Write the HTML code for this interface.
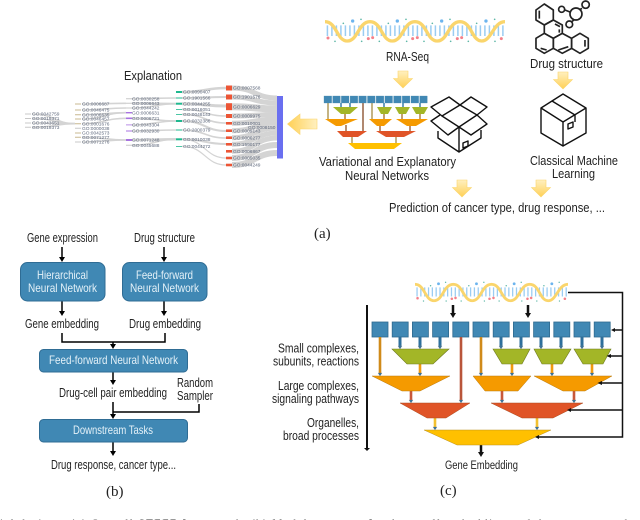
<!DOCTYPE html>
<html><head><meta charset="utf-8"><style>
html,body{margin:0;padding:0;background:#fff;width:640px;height:520px;overflow:hidden}
svg{display:block;filter:blur(.35px)}
text{font-family:"Liberation Sans",sans-serif;fill:#222;font-size:12.5px}
.s{font-family:"Liberation Serif",serif;font-size:15px;fill:#222}
.w{fill:#e4f1f8;font-size:12px}
.go{font-size:4.8px;fill:#5e687c}
.fl{fill:none;stroke:#d4d4d4}
.b{stroke:#000;stroke-width:1.5;fill:none}
.bk{fill:none;stroke:#111;stroke-width:1.4;stroke-linejoin:round}
.mol{fill:none;stroke:#222;stroke-width:5;stroke-linejoin:round}
</style></head><body>
<svg width="640" height="520" viewBox="0 0 640 520" xmlns="http://www.w3.org/2000/svg">
<defs>
<linearGradient id="ya" x1="0" y1="0" x2="0" y2="1"><stop offset="0" stop-color="#fff0c0"/><stop offset="1" stop-color="#ffd055"/></linearGradient>
<linearGradient id="yl" x1="1" y1="0" x2="0" y2="0"><stop offset="0" stop-color="#fff0c0"/><stop offset="1" stop-color="#ffd055"/></linearGradient>
<g id="helix">
<line x1="80" y1="92" x2="612" y2="92" stroke="#9accf2" stroke-width="32" stroke-dasharray="4.500 9"/>
<path d="M75 65C110 65 110 123 142 123S175 65 210 65S245 123 277 123S310 65 345 65S380 123 412 123S445 65 480 65S515 123 545 123S580 65 615 65" fill="none" stroke="#fad56c" stroke-width="10"/>
<g fill="#f4808a"><circle cx="84" cy="114" r="4.500"/><circle cx="205" cy="116" r="4.500"/><circle cx="218" cy="113" r="4.500"/><circle cx="338" cy="116" r="4.500"/><circle cx="352" cy="113" r="4.500"/><circle cx="472" cy="116" r="4.500"/><circle cx="485" cy="113" r="4.500"/><circle cx="604" cy="116" r="4.500"/></g>
<g fill="#6cb4ee"><circle cx="158" cy="63" r="5"/><circle cx="292" cy="63" r="5"/><circle cx="425" cy="63" r="5"/><circle cx="558" cy="63" r="5"/></g>
<g fill="#5fb8a8"><circle cx="130" cy="70" r="2.500"/><circle cx="183" cy="58" r="2.500"/><circle cx="265" cy="70" r="2.500"/><circle cx="318" cy="58" r="2.500"/><circle cx="397" cy="70" r="2.500"/><circle cx="450" cy="58" r="2.500"/><circle cx="530" cy="70" r="2.500"/><circle cx="584" cy="58" r="2.500"/><circle cx="105" cy="124" r="2.500"/><circle cx="185" cy="124" r="2.500"/><circle cx="238" cy="124" r="2.500"/><circle cx="320" cy="124" r="2.500"/><circle cx="372" cy="124" r="2.500"/><circle cx="452" cy="124" r="2.500"/><circle cx="505" cy="124" r="2.500"/><circle cx="585" cy="124" r="2.500"/></g>
</g>
<path id="ad" d="M5 0H15V7.500H19.500L10 17L.5 7.500H5Z" fill="url(#ya)" stroke="#fbd56b" stroke-width=".6"/>
<rect id="sq" width="16" height="15" fill="#4088b4" stroke="#2f6a8f" stroke-width=".8"/>
<rect id="ms" width="7.600" height="7" fill="#4088b4" stroke="#4b8db0" stroke-width=".3"/>
</defs>

<!-- (a) top helix -->
<use href="#helix" transform="translate(300 0) scale(.3333)"/>
<text x="386" y="61" textLength="43" lengthAdjust="spacingAndGlyphs">RNA-Seq</text>
<use href="#ad" x="393" y="71"/>

<!-- molecule -->
<g transform="translate(300 0) scale(.3333)" class="mol">
<path d="M708 30L733 12L760 30V60L733 75L708 60Z"/>
<path d="M733 75L760 60L787 75V100L760 115L733 100Z"/>
<path d="M708 115L733 100L760 115V145L733 160L708 145Z"/>
<path d="M760 115L787 100L815 115V145L787 160L760 145Z"/>
<path d="M815 115L840 100L865 115V145L840 160L815 145Z"/>
<path d="M718 32V56M765 72L780 80M778 88V98M855 120V140M775 150L805 140M722 145L740 150"/>
<circle cx="828" cy="42" r="18"/><circle cx="857" cy="14" r="11"/><circle cx="785" cy="28" r="9"/><circle cx="808" cy="73" r="10"/>
<path d="M795 30L810 36M846 25L838 30M822 60L815 65"/>
</g>
<text x="530" y="68" textLength="73" lengthAdjust="spacingAndGlyphs">Drug structure</text>
<use href="#ad" x="553" y="72"/>

<!-- closed box -->
<g class="bk">
<path d="M563 94L586 108V133L563 146L541 133V108Z"/>
<path d="M541 108L563 122L586 108M563 122V146M552 101L575 115V122"/>
<path d="M568 124L573 122V127L568 129Z"/>
</g>
<text x="530" y="165" textLength="88" lengthAdjust="spacingAndGlyphs">Classical Machine</text>
<text x="552" y="178" textLength="43" lengthAdjust="spacingAndGlyphs">Learning</text>

<!-- open box -->
<g class="bk">
<path d="M442 116L431 107L449 97L460 105L471 97L487 107L477 115"/>
<path d="M442 116L460 105L477 115L459 127Z"/>
<path d="M440 115L431 121L448 135L459 127L471 135L487 124L477 115"/>
<path d="M438 131V138L459 152L481 138V130M459 127V152"/>
<path d="M463 143L468 141V146L463 148Z"/>
</g>

<!-- mini network -->
<g fill="none" stroke-width="1.500">
<path d="M328 103V120" stroke="#b09a5a"/>
<path d="M345 114V120" stroke="#b07a3a"/>
<path d="M341 103V107M350 103V107M384 103V107M403 103V107M420 103V107" stroke="#3a7fa8"/>
<path d="M363 103V131" stroke="#a87a60" stroke-width="1.800"/>
<path d="M372 103V120" stroke="#b09a5a"/>
<path d="M384 114V120M402 114V120M420 114V120" stroke="#b08040"/>
<path d="M346 125V131M380 125V131M410 125V131" stroke="#a06a40"/>
<path d="M352 137V143M396 137V143" stroke="#b09a5a"/>
</g>
<g>
<use href="#ms" x="324" y="96"/><use href="#ms" x="332.700" y="96"/><use href="#ms" x="341.400" y="96"/><use href="#ms" x="350.100" y="96"/><use href="#ms" x="358.800" y="96"/><use href="#ms" x="367.500" y="96"/><use href="#ms" x="376.200" y="96"/><use href="#ms" x="384.900" y="96"/><use href="#ms" x="393.600" y="96"/><use href="#ms" x="402.300" y="96"/><use href="#ms" x="411" y="96"/><use href="#ms" x="419.700" y="96"/>
</g>
<g fill="#a3b627">
<path d="M333 107H358L350 114H341Z"/><path d="M377 107H392L388 114H381Z"/><path d="M395 107H410L406 114H399Z"/><path d="M412 107H428L424 114H416Z"/>
</g>
<g fill="#f59a00">
<path d="M325 119H358L341 126H336Z"/><path d="M369 119H392L384 126H377Z"/><path d="M396 119H428L416 126H407Z"/>
</g>
<g fill="#e05427"><path d="M337 131H367L358 137H343Z"/><path d="M376 131H416L404 137H386Z"/></g>
<path d="M348 143H402L394 149H355Z" fill="#ffc000"/>

<path d="M317 119V129H300V134.500L287.500 124L300 114V119Z" fill="url(#yl)" stroke="#fbd56b" stroke-width=".6"/>

<text x="319" y="166" textLength="137" lengthAdjust="spacingAndGlyphs">Variational and Explanatory</text>
<text x="345" y="180" textLength="84" lengthAdjust="spacingAndGlyphs">Neural Networks</text>
<use href="#ad" x="452" y="180"/>
<use href="#ad" x="531" y="180"/>
<text x="389" y="212" textLength="216" lengthAdjust="spacingAndGlyphs">Prediction of cancer type, drug response, ...</text>
<text class="s" x="314" y="238">(a)</text>

<!-- Explanation sankey -->
<text x="124" y="80" textLength="58" lengthAdjust="spacingAndGlyphs">Explanation</text>
<g class="fl">
<path stroke-width="5" d="M232 88C255 88 255 98 277 98"/>
<path stroke-width="5" d="M232 97C255 97 255 103 277 103"/>
<path stroke-width="7" d="M232 106.700C255 106.700 255 109 277 109"/>
<path stroke-width="5" d="M232 116C255 116 255 114.500 277 114.500"/>
<path stroke-width="5" d="M232 123.300C255 123.300 255 119 277 119"/>
<path stroke-width="5" d="M232 130.700C255 130.700 255 123 277 123"/>
<path stroke-width="5" d="M232 137.700C255 137.700 255 128 277 128"/>
<path stroke-width="5" d="M232 144.300C255 144.300 255 133 277 133"/>
<path stroke-width="5" d="M232 151.300C255 151.300 255 138 277 138"/>
<path stroke-width="6" d="M232 158C255 158 255 145 277 145"/>
<path stroke-width="6" d="M232 165C255 165 255 153 277 153"/>
<g stroke-width="1.600">
<path stroke-width="2.500" d="M182 92C205 92 205 88 226 88"/>
<path stroke-width="2" d="M182 98C205 98 205 97 226 97"/>
<path stroke-width="3" d="M182 103.700C205 103.700 205 106 226 106"/>
<path d="M182 109.300C205 109.300 205 116 226 116"/>
<path d="M182 114.300C205 114.300 205 123 226 123"/>
<path stroke-width="2" d="M182 121C205 121 205 131 226 131"/>
<path d="M182 130C205 130 205 138 226 138"/>
<path stroke-width="2" d="M182 139.300C205 139.300 205 144 226 144"/>
<path stroke-width="1.200" d="M182 146.300C205 146.300 205 165 226 165"/>
<path stroke-width="1.200" d="M182 139.300C205 139.300 205 158 226 158"/>
<path d="M132 103.300C155 103.300 155 103.700 176 103.700" stroke-width="2"/>
<path d="M132 98.700C155 98.700 155 98 176 98"/>
<path d="M132 108C155 108 155 103.700 176 103.700"/>
<path d="M132 118.300C155 118.300 155 121 176 121"/>
<path d="M132 125C155 125 155 121 176 121"/>
<path d="M132 131C155 131 155 130 176 130"/>
<path d="M132 140C155 140 155 139.300 176 139.300" stroke-width="2.500"/>
<path d="M132 145.300C155 145.300 155 139.300 176 139.300"/>
<path d="M82 104C105 104 105 103.300 126 103.300"/>
<path d="M82 110C105 110 105 108 126 108"/>
<path d="M82 114.700C105 114.700 105 112.700 126 112.700"/>
<path d="M82 119C105 119 105 112.700 126 112.700"/>
<path d="M82 123.700C105 123.700 105 118.300 126 118.300"/>
<path d="M82 137.300C105 137.300 105 140 126 140"/>
<path d="M82 142C105 142 105 140 126 140"/>
<path d="M32 114C55 114 55 123.700 75 123.700"/>
<path d="M32 118.500C55 118.500 55 123.700 75 123.700"/>
<path d="M32 123C55 123 55 123.700 75 123.700"/>
<path d="M32 127.300C55 127.300 55 123.700 75 123.700"/>
</g>
</g>
<g stroke-width="1" fill="none">
<path stroke="#c8c8c8" d="M25 114H31M25 118.500H31M25 123H31M25 127.300H31M75 128.300H81M75 142H81M126 98.700H132M126 103.300H132M126 108H132M126 145.300H132"/>
<path stroke="#c8b890" d="M75 104H81M75 110H81M75 114.700H81M75 119H81M75 123.700H81M75 133H81M75 137.300H81"/>
</g>
<g fill="#a873e0"><rect x="126" y="112" width="6" height="1.400"/><rect x="126" y="117.500" width="6" height="1.600"/><rect x="126" y="130.500" width="6" height="1"/><rect x="126" y="139" width="6" height="2"/><rect x="126" y="124.500" width="6" height=".8"/></g>
<g fill="#1fb88f"><rect x="176" y="91" width="6" height="2"/><rect x="176" y="97.500" width="6" height="1"/><rect x="176" y="102.700" width="6" height="2"/><rect x="176" y="109" width="6" height=".8"/><rect x="176" y="114" width="6" height=".8"/><rect x="176" y="120" width="6" height="2"/><rect x="176" y="129.500" width="6" height="1"/><rect x="176" y="138.300" width="6" height="2"/><rect x="176" y="146" width="6" height=".8"/></g>
<g fill="#ec5535"><rect x="226" y="85.500" width="6" height="5"/><rect x="226" y="94.500" width="6" height="5"/><rect x="226" y="103.200" width="6" height="7"/><rect x="226" y="114" width="6" height="4"/><rect x="226" y="122" width="6" height="2.600"/><rect x="226" y="129.400" width="6" height="2.600"/><rect x="226" y="136.400" width="6" height="2.600"/><rect x="226" y="143" width="6" height="2.600"/><rect x="226" y="150" width="6" height="2.600"/><rect x="226" y="156.700" width="6" height="2.600"/><rect x="226" y="163.700" width="6" height="2.600"/></g>
<rect x="277" y="96" width="6" height="62.500" fill="#6a6ff0"/>
<g>
<text class="go" x="32" y="115.600">GO:0042759</text><text class="go" x="32" y="120.100">GO:0019371</text><text class="go" x="32" y="124.600">GO:0043651</text><text class="go" x="32" y="128.900">GO:0019373</text>
<text class="go" x="82" y="105.600">GO:0006687</text><text class="go" x="82" y="111.600">GO:0046475</text><text class="go" x="82" y="116.300">GO:0006635</text><text class="go" x="82" y="120.600">GO:0046457</text><text class="go" x="82" y="125.300">GO:0001676</text><text class="go" x="82" y="129.900">GO:0000038</text><text class="go" x="82" y="134.600">GO:0042573</text><text class="go" x="82" y="138.900">GO:0071277</text><text class="go" x="82" y="143.600">GO:0071276</text>
<text class="go" x="132" y="100.300">GO:0030258</text><text class="go" x="132" y="104.900">GO:0006643</text><text class="go" x="132" y="109.600">GO:0044242</text><text class="go" x="132" y="114.300">GO:0006631</text><text class="go" x="132" y="119.900">GO:0006721</text><text class="go" x="132" y="126.600">GO:0043304</text><text class="go" x="132" y="132.600">GO:0032930</text><text class="go" x="132" y="141.600">GO:0071248</text><text class="go" x="132" y="146.900">GO:0045688</text>
<text class="go" x="183" y="93.600">GO:0090407</text><text class="go" x="183" y="99.600">GO:1901566</text><text class="go" x="183" y="105.300">GO:0044255</text><text class="go" x="183" y="110.900">GO:0016051</text><text class="go" x="183" y="115.900">GO:0048143</text><text class="go" x="183" y="122.600">GO:0032386</text><text class="go" x="183" y="131.600">GO:2000379</text><text class="go" x="183" y="140.900">GO:0010038</text><text class="go" x="183" y="147.900">GO:0044272</text>
<text class="go" x="233" y="89.600">GO:0007568</text><text class="go" x="233" y="98.600">GO:1901576</text><text class="go" x="233" y="108.300">GO:0006629</text><text class="go" x="233" y="117.600">GO:0009975</text><text class="go" x="233" y="124.900">GO:0010001</text><text class="go" x="233" y="132.300">GO:0009143</text><text class="go" x="233" y="139.300">GO:0006277</text><text class="go" x="233" y="145.900">GO:1590177</text><text class="go" x="233" y="152.900">GO:0006867</text><text class="go" x="233" y="159.600">GO:0005035</text><text class="go" x="233" y="166.600">GO:0044249</text>
<text class="go" x="248" y="128.800">GO:0008150</text>
</g>

<!-- (b) -->
<text x="27" y="242" textLength="71" lengthAdjust="spacingAndGlyphs">Gene expression</text>
<text x="134" y="242" textLength="61" lengthAdjust="spacingAndGlyphs">Drug structure</text>
<g class="b">
<path d="M62 247V259M164 247V259M62 301V313M164 301V313M113 372V381M113 402V416M113 442V453"/>
<path d="M62 333V342H165V333M113 342V346M199 404V412H113"/>
</g>
<g fill="#000">
<path d="M59 257H65L62 262ZM161 257H167L164 262ZM59 311H65L62 316ZM161 311H167L164 316ZM110 344H116L113 349ZM110 380H116L113 385ZM110 414H116L113 419ZM110 451H116L113 456Z"/>
</g>
<g fill="#4088b4" stroke="#2f6c94" stroke-width="1">
<rect x="20.500" y="262.500" width="84.500" height="38.500" rx="7"/>
<rect x="122.500" y="262.500" width="84.500" height="38.500" rx="7"/>
<rect x="39.500" y="349.500" width="148" height="22.500" rx="4"/>
<rect x="39.500" y="419.500" width="148" height="22.500" rx="4"/>
</g>
<text class="w" x="37" y="279" textLength="51" lengthAdjust="spacingAndGlyphs">Hierarchical</text>
<text class="w" x="28" y="292" textLength="69" lengthAdjust="spacingAndGlyphs">Neural Network</text>
<text class="w" x="136" y="279" textLength="57" lengthAdjust="spacingAndGlyphs">Feed-forward</text>
<text class="w" x="130" y="292" textLength="69" lengthAdjust="spacingAndGlyphs">Neural Network</text>
<text class="w" x="49" y="364" textLength="129" lengthAdjust="spacingAndGlyphs">Feed-forward Neural Network</text>
<text class="w" x="73" y="434" textLength="80" lengthAdjust="spacingAndGlyphs">Downstream Tasks</text>
<text x="25" y="328" textLength="74" lengthAdjust="spacingAndGlyphs">Gene embedding</text>
<text x="129" y="328" textLength="72" lengthAdjust="spacingAndGlyphs">Drug embedding</text>
<text x="59" y="397" textLength="108" lengthAdjust="spacingAndGlyphs">Drug-cell pair embedding</text>
<text x="177" y="387" textLength="36" lengthAdjust="spacingAndGlyphs">Random</text>
<text x="177" y="400" textLength="36" lengthAdjust="spacingAndGlyphs">Sampler</text>
<text x="51" y="469" textLength="125" lengthAdjust="spacingAndGlyphs">Drug response, cancer type...</text>
<text class="s" x="106" y="496">(b)</text>

<!-- (c) -->
<use href="#helix" transform="translate(393.750 265.900) scale(.2833)"/>
<path d="M367 305V449" stroke="#111" stroke-width="2"/>
<path d="M364 448H370L367 451Z" fill="#111"/>
<text x="278" y="352.700" textLength="81" lengthAdjust="spacingAndGlyphs">Small complexes,</text>
<text x="273" y="365.700" textLength="86" lengthAdjust="spacingAndGlyphs">subunits, reactions</text>
<text x="278" y="390" textLength="81" lengthAdjust="spacingAndGlyphs">Large complexes,</text>
<text x="272" y="403" textLength="87" lengthAdjust="spacingAndGlyphs">signaling pathways</text>
<text x="307" y="427" textLength="52" lengthAdjust="spacingAndGlyphs">Organelles,</text>
<text x="283" y="440" textLength="76" lengthAdjust="spacingAndGlyphs">broad processes</text>

<!-- black arrows -->
<path d="M453 305V314M528 305V314M481 445V453" stroke="#111" stroke-width="2.500" fill="none"/>
<path d="M450 313H456L453 318ZM525 313H531L528 318ZM478 452H484L481 457Z" fill="#111"/>
<!-- squares -->
<use href="#sq" x="372" y="322"/><use href="#sq" x="392.200" y="322"/><use href="#sq" x="412.400" y="322"/><use href="#sq" x="432.600" y="322"/><use href="#sq" x="452.800" y="322"/><use href="#sq" x="473" y="322"/><use href="#sq" x="493.200" y="322"/><use href="#sq" x="513.400" y="322"/><use href="#sq" x="533.600" y="322"/><use href="#sq" x="553.800" y="322"/><use href="#sq" x="574" y="322"/><use href="#sq" x="594.200" y="322"/>
<!-- stems -->
<g fill="none">
<path d="M400 337V346M420 337V346M440 337V346M501 337V346M521 337V346M541 337V346M561 337V346M582 337V346M602 337V346" stroke="#2e6f9b" stroke-width="3"/>
<path d="M380 337V373M481 337V373" stroke="#d08a1a" stroke-width="2.600"/>
<path d="M461 337V400" stroke="#b9553a" stroke-width="2.600"/>
<path d="M420 364V373M512 364V373M552 364V373M592 364V373" stroke="#f09a10" stroke-width="2.600"/>
<path d="M411 391V400M502 391V400M574 391V400" stroke="#c8583a" stroke-width="2.600"/>
<path d="M435 418V427M537 418V427" stroke="#f2c030" stroke-width="2.600"/>
</g>
<g fill="#2e6f9b" stroke="#888" stroke-width=".3">
<path d="M398 346H402L400 349ZM418 346H422L420 349ZM438 346H442L440 349ZM499 346H503L501 349ZM519 346H523L521 349ZM539 346H543L541 349ZM559 346H563L561 349ZM580 346H584L582 349ZM600 346H604L602 349Z"/>
<path d="M378 373H382L380 376ZM479 373H483L481 376ZM418 373H422L420 376ZM510 373H514L512 376ZM550 373H554L552 376ZM590 373H594L592 376ZM459 400H463L461 403ZM409 400H413L411 403ZM500 400H504L502 403ZM572 400H576L574 403ZM433 427H437L435 430ZM535 427H539L537 430Z"/>
</g>
<!-- trapezoids -->
<g stroke="#6e7a20" stroke-width=".6" fill="#a3b627">
<path d="M392 349H449L433 364H407Z"/><path d="M493 349H530L522 364H502Z"/><path d="M534 349H571L562 364H542Z"/><path d="M574 349H611L603 364H583Z"/>
</g>
<g stroke="#b87a10" stroke-width=".5" fill="#f59a00">
<path d="M372 376H450L420 391H402Z"/><path d="M473 376H531L518 391H485Z"/><path d="M534 376H612L585 391H563Z"/>
</g>
<g stroke="#a84a20" stroke-width=".5" fill="#e05427">
<path d="M400 403H470L446 418H427Z"/><path d="M491 403H583L553 418H522Z"/>
</g>
<path d="M424 430H551L518 445H457Z" fill="#ffc000" stroke="#b89020" stroke-width=".5"/>
<!-- right connector -->
<path d="M568 292.500H622.500V437H538M622.500 330H614M622.500 356H610M622.500 383H601M622.500 410H570" fill="none" stroke="#111" stroke-width="1.500"/>
<path d="M611 330L615 328V332ZM606.500 356L611 354V358ZM597.500 383L602 381V385ZM567 410L571 408V412ZM535 437L539 435V439Z" fill="#111"/>
<text x="445" y="469" textLength="73" lengthAdjust="spacingAndGlyphs" style="font-size:11.500px">Gene Embedding</text>
<text class="s" x="440" y="495">(c)</text>

<!-- clipped caption -->
<text x="0" y="526.500" textLength="640" lengthAdjust="spacing" style="font-family:'Liberation Serif',serif;font-size:11px;fill:#333">ial designs. (a) Overall STEFF framework. (b) Model structure for drug-cell embedding and downstream tasks.</text>
</svg>
</body></html>
